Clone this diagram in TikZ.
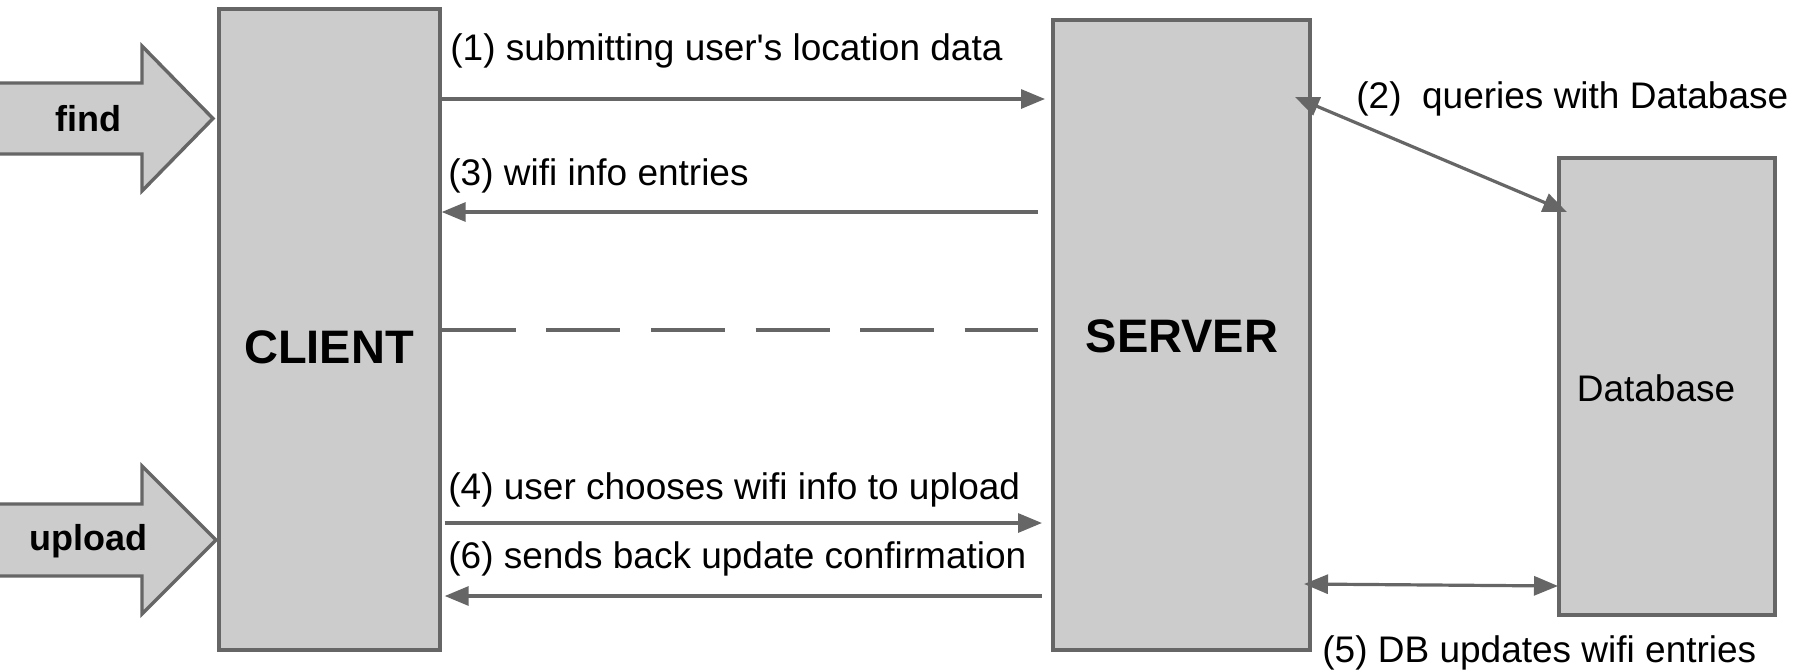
\documentclass[tikz,border=0pt]{standalone}
\usepackage{fontspec}
\setmainfont{Liberation Sans}
\usetikzlibrary{arrows.meta}
\tikzset{
  box/.style={draw=black!60,fill=black!20,line width=1.7pt},
  lbl/.style={inner sep=0pt,anchor=west,font=\fontsize{18.5}{22}\selectfont},
  big/.style={inner sep=0pt,font=\fontsize{23.5}{28}\selectfont\bfseries},
  flow/.style={draw=black!60,line width=1.6pt,-{Triangle[length=12pt,width=9.5pt]}},
  both/.style={draw=black!60,line width=1.6pt,{Triangle[length=12pt,width=9.5pt]}-{Triangle[length=12pt,width=9.5pt]}}
}
\begin{document}
\begin{tikzpicture}[x=0.5pt,y=-0.5pt]
  \useasboundingbox (0,0) rectangle (1810,670);
  % input arrows
  \draw[box] (-5,83) -- (142,83) -- (142,46) -- (213,118.5) -- (142,191) -- (142,154) -- (-5,154) -- cycle;
  \draw[box] (-5,504) -- (142,504) -- (142,466) -- (216,540) -- (142,614) -- (142,576) -- (-5,576) -- cycle;
  \node[inner sep=0pt,font=\fontsize{18}{22}\selectfont\bfseries] (find) at (88,119) {find};
  \node[inner sep=0pt,font=\fontsize{18}{22}\selectfont\bfseries] (upload) at (88,541) {upload};
  % boxes
  \draw
    (329.5,329.5) node[box,minimum width=110.5pt,minimum height=320.5pt] (client){}
    (1181.5,335) node[box,minimum width=128.5pt,minimum height=315pt] (server){}
    (1667,386.5) node[box,minimum width=108pt,minimum height=228.5pt] (db){};
  \node[big] (clienttxt) at (329,347) {CLIENT};
  \node[big] (servertxt) at (1182,336) {SERVER};
  \node[inner sep=0pt,font=\fontsize{18.5}{22}\selectfont] (dbtxt) at (1656,388) {Database};
  % end points
  \coordinate (c1) at (1045,99);
  \coordinate (c3) at (1038,212);
  \coordinate (cd) at (1038,330);
  \coordinate (c4) at (1042,523);
  \coordinate (c6) at (1042,596);
  \coordinate (q1) at (1295,97);
  \coordinate (q2) at (1567,212);
  \coordinate (q5) at (1304,584);
  \coordinate (q6) at (1558,586);
  \begin{scope}
    \draw[flow] (client.east |- c1) to (c1);
    \draw[flow] (c3) to (client.east |- c3);
    \draw[draw=black!60,line width=1.6pt,dash pattern=on 37pt off 15.3pt] (client.east |- cd) to (cd);
    \draw[flow] ([xshift=1.5pt]client.east |- c4) to (c4);
    \draw[flow,shorten >=1.5pt] (c6) to (client.east |- c6);
    \draw[both] (q1) to (q2);
    \draw[both] (q5) to (q6);
  \end{scope}
  % labels
  \node[lbl] (l1) at (450,51) {(1) submitting user\textquotesingle s location data};
  \node[lbl] (l2) at (1356,99) {(2)\ \ queries with Database};
  \node[lbl] (l3) at (448,176) {(3) wifi info entries};
  \node[lbl] (l4) at (448,490) {(4) user chooses wifi info to upload};
  \node[lbl] (l5) at (1322,653) {(5) DB updates wifi entries};
  \node[lbl] (l6) at (448,559) {(6) sends back update confirmation};
\end{tikzpicture}
\end{document}
